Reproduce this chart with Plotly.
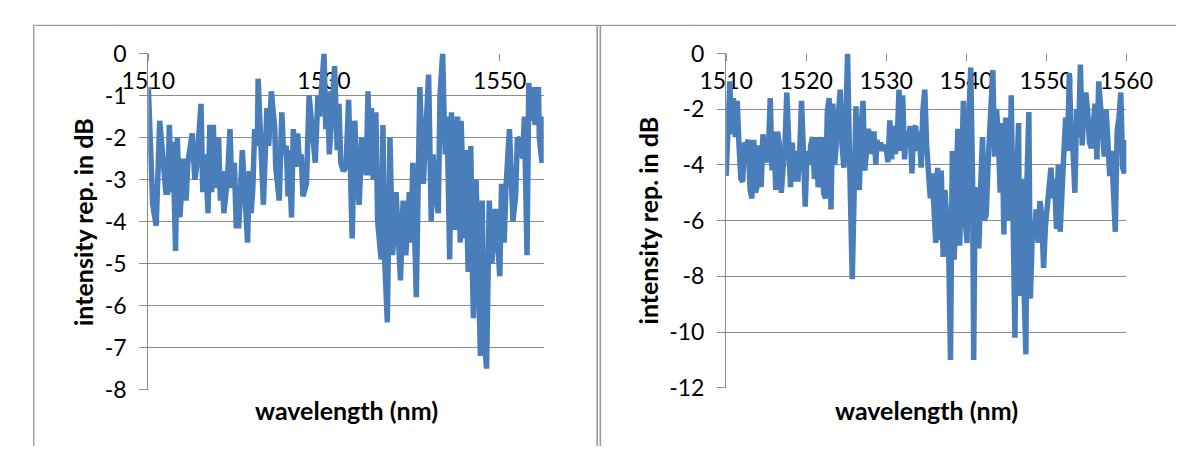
import plotly.graph_objects as go

# ---------------- data ----------------
wl_left = [1510.0, 1510.5, 1510.9, 1511.3, 1512.0, 1512.2, 1512.4, 1512.6, 1512.8, 1513.1,
           1513.3, 1513.6, 1514.0, 1514.3, 1514.5, 1515.0, 1515.3, 1515.5, 1516.0, 1516.2,
           1516.5, 1516.8, 1517.0, 1517.2, 1517.4, 1517.6, 1518.0, 1518.2, 1518.4, 1518.6,
           1519.0, 1519.3, 1519.5, 1519.8, 1520.0, 1520.3, 1520.7, 1521.3, 1521.5, 1521.7,
           1521.9, 1522.1, 1522.4, 1522.5, 1522.8, 1523.1, 1523.5, 1523.7, 1524.0, 1524.4,
           1524.5, 1524.9, 1525.2, 1525.4, 1525.7, 1525.9, 1526.0, 1526.3, 1526.5, 1526.8,
           1527.0, 1527.2, 1527.4, 1527.6, 1528.0, 1528.3, 1529.0, 1529.3, 1529.5, 1529.7,
           1530.0, 1530.2, 1530.4, 1530.6, 1530.8, 1531.2, 1531.5, 1531.7, 1531.9, 1532.2,
           1532.5, 1532.8, 1533.2, 1533.5, 1533.8, 1534.0, 1534.3, 1534.5, 1534.7, 1534.8,
           1535.0, 1535.2, 1535.4, 1535.6, 1535.9, 1536.1, 1536.5, 1536.7, 1536.9, 1537.2,
           1537.5, 1537.8, 1538.2, 1538.7, 1539.0, 1539.3, 1539.5, 1539.7, 1539.9, 1540.1,
           1540.5, 1540.9, 1541.3, 1541.5, 1541.9, 1542.2, 1542.4, 1542.8, 1543.0, 1543.2,
           1543.5, 1543.7, 1543.8, 1544.0, 1544.3, 1544.5, 1544.7, 1544.9, 1545.2, 1545.5,
           1545.6, 1546.0, 1546.1, 1546.4, 1546.7, 1546.9, 1547.0, 1547.3, 1547.8, 1548.0,
           1548.2, 1548.5, 1548.8, 1549.1, 1549.5, 1549.7, 1550.0, 1550.2, 1550.5, 1550.7,
           1551.1, 1551.5, 1551.8, 1552.0, 1552.4, 1552.6, 1552.8, 1553.1, 1553.3, 1553.6,
           1553.8, 1554.0, 1554.4, 1554.5, 1554.8, 1555.0]
db_left = [-0.8, -3.6, -4.1, -1.6, -3.3, -3.3, -1.7, -3.3, -2.1, -4.7,
           -2.0, -3.9, -2.5, -3.5, -2.6, -1.9, -3.0, -2.7, -1.2, -3.3,
           -2.4, -3.8, -1.7, -3.3, -1.7, -3.2, -2.0, -3.5, -2.8, -3.8,
           -3.0, -1.8, -3.2, -2.6, -4.1, -4.1, -2.3, -4.5, -2.8, -3.8,
           -3.2, -1.8, -2.2, -0.6, -2.1, -3.6, -1.3, -2.2, -0.9, -1.8,
           -2.7, -3.5, -1.4, -2.4, -2.2, -3.4, -2.3, -3.9, -1.8, -2.7,
           -1.9, -2.6, -2.4, -3.4, -3.1, -1.0, -2.6, -1.0, -1.5, -0.9,
           0.0, -1.8, -0.9, -2.4, -1.5, -0.3, -2.3, -1.2, -2.6, -2.8,
           -2.7, -1.1, -4.4, -1.6, -3.1, -3.6, -2.0, -2.8, -2.4, -2.9,
           -0.9, -2.9, -1.3, -3.0, -1.4, -4.0, -4.9, -1.7, -4.9, -6.4,
           -2.0, -4.8, -3.3, -5.4, -3.5, -4.8, -4.2, -3.3, -4.5, -2.6,
           -5.8, -0.8, -3.1, -2.3, -0.5, -4.0, -2.4, -3.5, -3.8, -1.0,
           0.0, -1.8, -2.4, -1.5, -4.9, -1.4, -2.0, -4.2, -1.5, -4.5,
           -1.6, -4.4, -2.3, -5.2, -2.2, -5.3, -6.3, -3.0, -7.2, -3.5,
           -6.7, -7.5, -3.5, -5.0, -3.7, -4.3, -5.3, -3.1, -4.5, -3.2,
           -1.8, -4.0, -3.4, -2.0, -2.1, -2.5, -1.5, -4.8, -0.7, -1.6,
           -0.8, -1.7, -0.8, -2.0, -2.6, -1.5]

wl_right = [1510.00, 1510.23, 1510.46, 1510.69, 1510.92, 1511.15, 1511.38, 1511.61, 1511.84, 1512.07,
            1512.30, 1512.53, 1512.76, 1512.99, 1513.22, 1513.45, 1513.68, 1513.91, 1514.14, 1514.37,
            1514.60, 1514.83, 1515.06, 1515.28, 1515.51, 1515.74, 1515.97, 1516.20, 1516.43, 1516.66,
            1516.89, 1517.12, 1517.35, 1517.58, 1517.81, 1518.04, 1518.27, 1518.50, 1518.73, 1518.96,
            1519.19, 1519.42, 1519.65, 1519.88, 1520.11, 1520.34, 1520.57, 1520.80, 1521.03, 1521.26,
            1521.49, 1521.72, 1521.95, 1522.18, 1522.41, 1522.64, 1522.87, 1523.10, 1523.33, 1523.56,
            1523.79, 1524.02, 1524.25, 1524.48, 1524.71, 1524.94, 1525.17, 1525.40, 1525.63, 1525.76,
            1525.99, 1526.22, 1526.41, 1526.64, 1526.87, 1527.10, 1527.33, 1527.56, 1527.78, 1528.01,
            1528.24, 1528.47, 1528.70, 1528.84, 1529.07, 1529.30, 1529.53, 1529.76, 1529.99, 1530.22,
            1530.45, 1530.68, 1530.91, 1531.14, 1531.37, 1531.60, 1531.83, 1532.06, 1532.29, 1532.52,
            1532.75, 1532.98, 1533.21, 1533.44, 1533.67, 1533.90, 1534.13, 1534.36, 1534.59, 1534.82,
            1535.05, 1535.28, 1535.51, 1535.74, 1535.97, 1536.19, 1536.42, 1536.65, 1536.88, 1537.11,
            1537.34, 1537.57, 1537.80, 1538.03, 1538.26, 1538.49, 1538.72, 1538.95, 1539.18, 1539.41,
            1539.64, 1539.87, 1540.10, 1540.33, 1540.56, 1540.79, 1540.93, 1541.11, 1541.34, 1541.57,
            1541.80, 1542.03, 1542.26, 1542.49, 1542.72, 1542.95, 1543.18, 1543.32, 1543.55, 1543.78,
            1544.01, 1544.24, 1544.47, 1544.70, 1544.93, 1545.16, 1545.39, 1545.62, 1545.85, 1546.08,
            1546.31, 1546.54, 1546.67, 1546.99, 1547.22, 1547.45, 1547.59, 1547.82, 1548.01, 1548.28,
            1548.51, 1548.74, 1548.97, 1549.20, 1549.43, 1549.66, 1549.89, 1550.12, 1550.35, 1550.58,
            1550.81, 1551.04, 1551.27, 1551.50, 1551.73, 1551.96, 1552.19, 1552.42, 1552.65, 1552.88,
            1553.11, 1553.34, 1553.57, 1553.80, 1554.03, 1554.26, 1554.49, 1554.72, 1554.94, 1555.17,
            1555.40, 1555.63, 1555.86, 1556.09, 1556.32, 1556.55, 1556.78, 1557.01, 1557.24, 1557.47,
            1557.70, 1557.93, 1558.16, 1558.39, 1558.62, 1558.85, 1559.08, 1559.31, 1559.54, 1559.77,
            1560.00]
db_right = [-4.4, -3.0, -1.0, -2.9, -1.6, -3.0, -1.7, -3.3, -4.5, -4.6,
            -3.2, -3.3, -3.1, -4.9, -5.2, -3.1, -5.0, -4.7, -3.3, -4.8,
            -2.9, -3.7, -3.9, -3.5, -1.6, -4.2, -2.8, -4.9, -2.8, -3.3,
            -5.0, -4.1, -3.3, -1.4, -3.5, -4.8, -3.2, -4.6, -3.5, -4.6,
            -3.5, -1.7, -3.5, -5.5, -3.5, -4.0, -3.3, -3.0, -4.5, -3.0,
            -4.8, -3.8, -3.0, -5.0, -5.2, -2.1, -1.6, -5.6, -1.8, -4.0,
            -3.2, -1.9, -1.3, -3.3, -4.1, -2.6, 0.0, -3.5, -6.5, -8.1,
            -5.0, -1.9, -4.4, -4.9, -2.6, -1.7, -4.2, -3.3, -2.7, -3.6,
            -3.0, -2.8, -4.0, -3.1, -3.5, -3.2, -3.5, -3.3, -3.4, -3.9,
            -2.4, -3.8, -2.6, -3.6, -3.1, -1.3, -3.5, -1.5, -3.8, -2.8,
            -3.3, -2.6, -4.3, -2.7, -2.6, -3.5, -2.8, -4.1, -2.0, -1.3,
            -3.3, -4.3, -5.2, -4.3, -5.6, -6.8, -4.1, -6.7, -4.2, -7.3,
            -4.9, -6.4, -7.0, -11.0, -3.5, -7.4, -5.0, -2.7, -6.9, -3.6,
            -1.7, -6.0, -6.8, -2.2, -0.5, -4.6, -11.0, -4.8, -6.5, -7.0,
            -4.8, -3.0, -6.0, -5.8, -4.0, -2.8, -2.0, -0.6, -3.7, -2.0,
            -3.0, -5.0, -2.5, -6.5, -2.3, -5.0, -6.0, -1.5, -6.0, -10.2,
            -4.5, -2.5, -8.7, -4.5, -8.5, -10.8, -4.5, -2.1, -8.8, -6.2,
            -6.5, -5.6, -6.8, -5.3, -5.8, -7.7, -6.2, -5.5, -4.9, -4.1,
            -5.2, -4.5, -6.3, -4.0, -6.4, -4.3, -3.6, -2.3, -3.5, -0.7,
            -3.0, -3.5, -5.0, -2.0, -3.0, -0.4, -3.3, -1.8, -1.4, -2.1,
            -3.2, -3.4, -2.6, -1.8, -3.8, -1.0, -1.9, -2.7, -3.7, -2.0,
            -3.3, -4.4, -3.5, -4.7, -6.4, -2.8, -2.3, -1.4, -4.1, -4.3,
            -3.1]

left_xticks = [1510, 1530, 1550]
left_yticks = [0, -1, -2, -3, -4, -5, -6, -7, -8]
right_xticks = [1510, 1520, 1530, 1540, 1550, 1560]
right_yticks = [0, -2, -4, -6, -8, -10, -12]
x_title = "wavelength (nm)"
y_title = "intensity rep. in dB"

# ---------------- figure ----------------
W, H = 1203, 459
LINE = "#4A7EBB"
GRID = "#8c8c8c"
FONT = "Lato, 'Open Sans', sans-serif"

fig = go.Figure()
fig.add_trace(go.Scatter(x=wl_left, y=db_left, mode="lines",
                         line=dict(color=LINE, width=5.5), xaxis="x", yaxis="y",
                         showlegend=False))
fig.add_trace(go.Scatter(x=wl_right, y=db_right, mode="lines",
                         line=dict(color=LINE, width=5.5), xaxis="x2", yaxis="y2",
                         showlegend=False))

def px_x(p):
    return p / W

def px_y(p):
    return 1 - p / H

# plot-area pixel boxes (title_dx = distance of the y title centre from the y axis)
L = dict(x0=127, x1=541, y0=41, y1=399, title_dx=69)
R = dict(x0=732, x1=1151, y0=41, y1=397, title_dx=82)

tickfont = dict(family=FONT, size=23, color="#000000")

def xaxis_cfg(box, ticks, rng):
    return dict(domain=[px_x(box["x0"]), px_x(box["x1"])], range=rng,
                anchor="free", position=px_y(box["y0"]), side="bottom",
                tickvals=ticks, ticktext=[str(t) for t in ticks],
                ticks="outside", ticklen=7, tickwidth=1.3, tickcolor=GRID,
                showline=False, showgrid=False, zeroline=False,
                tickfont=tickfont, ticklabelstandoff=0, layer="below traces",
                fixedrange=True)

def yaxis_cfg(box, anchor_x, ticks, rng):
    return dict(domain=[px_y(box["y1"]), px_y(box["y0"])], range=rng,
                anchor=anchor_x, tickvals=ticks, ticktext=[str(t) for t in ticks],
                ticks="outside", ticklen=8, tickwidth=1.3, tickcolor=GRID,
                showline=True, linecolor=GRID, linewidth=1.3,
                showgrid=True, gridcolor=GRID, gridwidth=1.3, zeroline=False,
                tickfont=tickfont, ticklabelstandoff=8, layer="below traces",
                fixedrange=True)

fig.update_layout(
    width=W, height=H,
    margin=dict(l=0, r=0, t=0, b=0),
    paper_bgcolor="white", plot_bgcolor="white",
    xaxis=xaxis_cfg(L, left_xticks, [1510, 1555]),
    yaxis=yaxis_cfg(L, "x", left_yticks, [-8, 0]),
    xaxis2=xaxis_cfg(R, right_xticks, [1510, 1560]),
    yaxis2=yaxis_cfg(R, "x2", right_yticks, [-12, 0]),
)

# axis titles
title_font = dict(family=FONT, size=25, color="#000000")
for box in (L, R):
    cx = (box["x0"] + box["x1"]) / 2
    fig.add_annotation(text="<b>%s</b>" % x_title, xref="paper", yref="paper",
                       x=px_x(cx), y=px_y(421), xanchor="center", yanchor="middle",
                       showarrow=False, font=title_font)
    cy = (box["y0"] + box["y1"]) / 2
    fig.add_annotation(text="<b>%s</b>" % y_title, xref="paper", yref="paper",
                       x=px_x(box["x0"] - box["title_dx"]), y=px_y(cy),
                       xanchor="center", yanchor="middle",
                       textangle=-90, showarrow=False, font=title_font)

# frame lines (chart borders)
BORDER = "#9a9a9a"
shapes = [
    dict(type="line", xref="paper", yref="paper", x0=px_x(7), x1=1, y0=px_y(11), y1=px_y(11),
         line=dict(color=BORDER, width=1.3)),
    dict(type="line", xref="paper", yref="paper", x0=px_x(7), x1=px_x(7), y0=px_y(11), y1=0,
         line=dict(color=BORDER, width=1.3)),
    dict(type="line", xref="paper", yref="paper", x0=px_x(597), x1=px_x(597), y0=px_y(11), y1=0,
         line=dict(color=BORDER, width=1.6)),
    dict(type="line", xref="paper", yref="paper", x0=px_x(600.3), x1=px_x(600.3), y0=px_y(11), y1=0,
         line=dict(color=BORDER, width=1.6)),
]
fig.update_layout(shapes=shapes)

fig.write_html("out.html")
